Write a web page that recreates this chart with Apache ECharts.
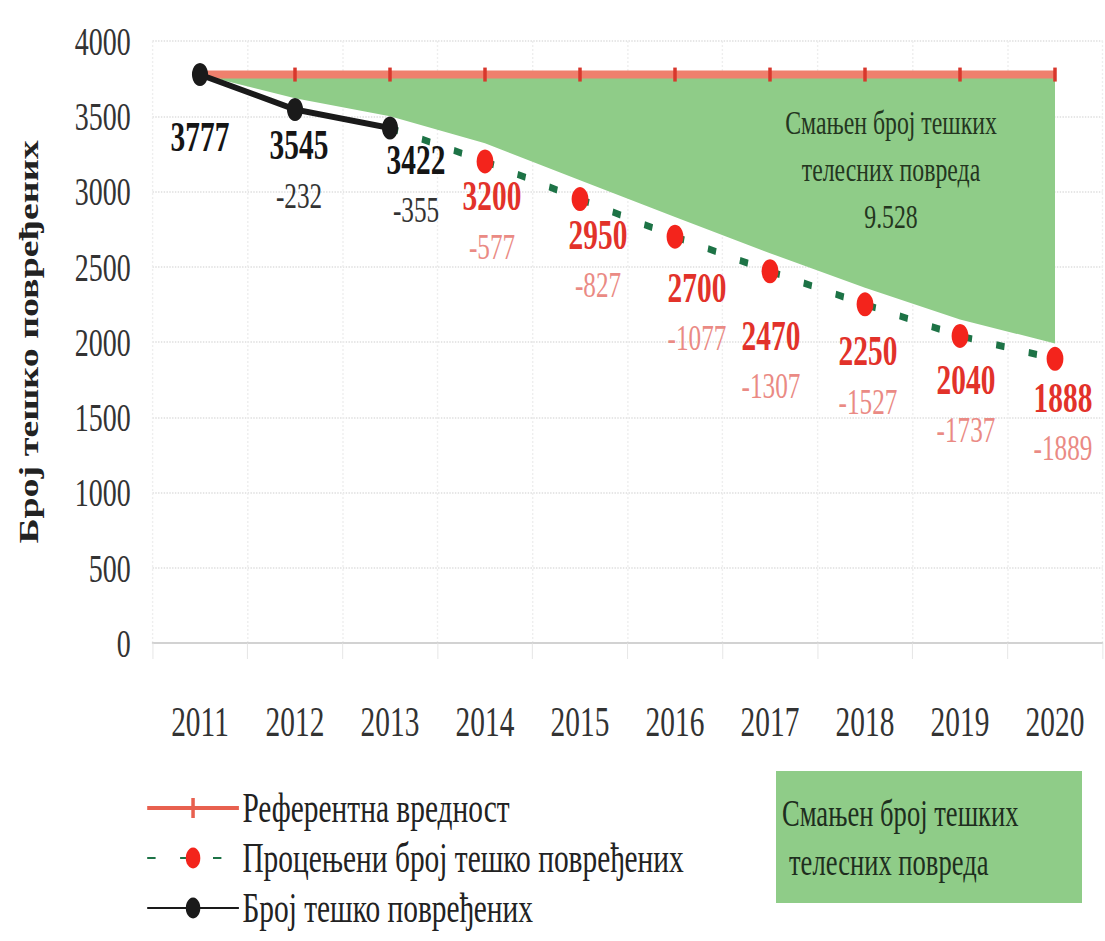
<!DOCTYPE html>
<html>
<head>
<meta charset="utf-8">
<script src="https://cdn.jsdelivr.net/npm/echarts@6/dist/echarts.min.js"></script>
<style>
  html, body { margin: 0; padding: 0; background: #fff; overflow: hidden; }
  /* the source chart is squeezed horizontally, so draw wide and squeeze */
  #chart { width: 1579px; height: 941px; transform: scaleX(0.7); transform-origin: 0 0; }
</style>
</head>
<body>
<div id="chart"></div>
<script>
const years = ['2011', '2012', '2013', '2014', '2015', '2016', '2017', '2018', '2019', '2020']
const referenceValues = [3777, 3777, 3777, 3777, 3777, 3777, 3777, 3777, 3777, 3777]
const actual = [3777, 3545, 3422, null, null, null, null, null, null, null]
const estimated = [null, null, 3422, 3200, 2950, 2700, 2470, 2250, 2040, 1888]
const reductions = [null, -232, -355, -577, -827, -1077, -1307, -1527, -1737, -1889]
// lower edge of the green "saved" band
const greenLower = [3777, 3620, 3500, 3320, 3075, 2830, 2590, 2360, 2150, 1990]
const yTicks = { min: 0, max: 4000, interval: 500 }

const SQUISH = 0.7
const sx = v => v / SQUISH // screen px -> chart px
const FONT = 'Liberation Serif'

// label block centre relative to point, screen px
const labelOffsets = [[0, 63], [4, 61], [26, 57], [7, 60], [18, 61], [22, 76], [1, 90], [3, 72], [6, 69], [8, 64]]

const savedTotal = reductions.reduce((s, v) => s + (v ? -v : 0), 0)
const savedText = (savedTotal / 1000).toFixed(3)

function richLabel(i, valColor, deltaColor) {
  return {
    show: true,
    position: 'inside',
    offset: [sx(labelOffsets[i][0]), labelOffsets[i][1]],
    align: 'center',
    verticalAlign: 'middle',
    formatter: p => reductions[p.dataIndex] == null
      ? `{v|${p.value}}`
      : `{v|${p.value}}\n{d|${reductions[p.dataIndex]}}`,
    rich: {
      v: { fontFamily: FONT, fontSize: 42, fontWeight: 'bold', color: valColor, lineHeight: 50, align: 'center' },
      d: { fontFamily: FONT, fontSize: 36, color: deltaColor, lineHeight: 50, align: 'center' }
    }
  }
}

const actualData = actual.map((v, i) => v == null ? '-' : {
  value: v,
  label: richLabel(i, '#151515', '#333333')
})

const estimatedData = estimated.map((v, i) => {
  if (v == null) return '-'
  if (actual[i] != null) return { value: v, symbolSize: 0, label: { show: false } }
  return { value: v, label: richLabel(i, '#e2322a', '#ea8a84') }
})

const chart = echarts.init(document.getElementById('chart'), null, { renderer: 'svg' })

const option = {
  backgroundColor: '#fff',
  animation: false,
  grid: { left: sx(152.5), right: 4, top: 41, bottom: 298 },
  legend: {
    orient: 'vertical',
    left: sx(143),
    top: 780,
    height: 150,
    itemWidth: 131,
    itemHeight: 26,
    itemGap: 4,
    textStyle: { fontFamily: FONT, fontSize: 42, lineHeight: 46, color: '#222' },
    data: [
      {
        name: 'Референтна вредност',
        // salmon line with a small red tick, like the chart markers
        icon: 'path://M0,11 L131,11 L131,15 L0,15 Z M63,3 L68,3 L68,23 L63,23 Z',
        itemStyle: { color: '#e8604f' }
      },
      'Процењени број тешко повређених',
      'Број тешко повређених'
    ]
  },
  xAxis: {
    type: 'category',
    data: years,
    boundaryGap: true,
    axisLine: { lineStyle: { color: '#d2d2d2', width: 2 } },
    axisTick: { show: true, length: 16, lineStyle: { color: '#e2e2e2' } },
    splitLine: { show: true, lineStyle: { color: '#eeeeee', type: 'dotted', width: 2 } },
    axisLabel: { fontFamily: FONT, fontSize: 42, color: '#333', margin: 58 }
  },
  yAxis: {
    type: 'value',
    min: yTicks.min,
    max: yTicks.max,
    interval: yTicks.interval,
    name: 'Број тешко повређених',
    nameLocation: 'middle',
    nameGap: 158,
    nameTextStyle: { fontFamily: FONT, fontSize: 38, fontWeight: 'bold', color: '#222' },
    axisLine: { show: false },
    axisTick: { show: false },
    splitLine: { lineStyle: { color: '#e6e6e6', type: 'dotted', width: 2 } },
    axisLabel: { fontFamily: FONT, fontSize: 40, color: '#333', margin: 31, formatter: v => String(v) }
  },
  graphic: [
    {
      type: 'text',
      x: sx(891), y: 99,
      style: {
        text: 'Смањен број тешких\nтелесних повреда\n' + savedText,
        fontFamily: FONT, fontSize: 34, lineHeight: 47,
        fill: '#24361f', align: 'center', verticalAlign: 'top'
      },
      z: 20
    },
    {
      type: 'rect',
      shape: { x: sx(776), y: 771, width: sx(306), height: 132 },
      style: { fill: '#8fcc88' },
      z: 5
    },
    {
      type: 'text',
      x: sx(782), y: 813,
      style: { text: 'Смањен број тешких', fontFamily: FONT, fontSize: 38, fill: '#1e2e1e', verticalAlign: 'middle' },
      z: 6
    },
    {
      type: 'text',
      x: sx(789), y: 862,
      style: { text: 'телесних повреда', fontFamily: FONT, fontSize: 38, fill: '#1e2e1e', verticalAlign: 'middle' },
      z: 6
    }
  ],
  series: [
    {
      name: 'base',
      type: 'line',
      stack: 'saved',
      data: greenLower,
      symbol: 'none',
      lineStyle: { opacity: 0 },
      silent: true,
      z: 1
    },
    {
      name: 'Смањен број тешких телесних повреда',
      type: 'line',
      stack: 'saved',
      data: referenceValues.map((r, i) => r - greenLower[i]),
      symbol: 'none',
      lineStyle: { opacity: 0 },
      areaStyle: { color: '#8fcc88', opacity: 1 },
      silent: true,
      z: 1
    },
    {
      name: 'Референтна вредност',
      type: 'line',
      data: referenceValues,
      symbol: 'rect',
      symbolSize: [5, 14],
      itemStyle: { color: '#d8372c' },
      lineStyle: { color: '#ef806d', width: 8 },
      z: 3
    },
    {
      name: 'Процењени број тешко повређених',
      type: 'line',
      data: estimatedData,
      symbol: 'circle',
      symbolSize: 24,
      itemStyle: { color: '#f3241c' },
      lineStyle: { color: '#1d7346', width: 7, type: [12, 35], cap: 'butt' },
      z: 4
    },
    {
      name: 'Број тешко повређених',
      type: 'line',
      data: actualData,
      symbol: 'circle',
      symbolSize: 23,
      itemStyle: { color: '#1a1a1a' },
      lineStyle: { color: '#1a1a1a', width: 6 },
      z: 5
    }
  ]
}

chart.setOption(option)
</script>
</body>
</html>
